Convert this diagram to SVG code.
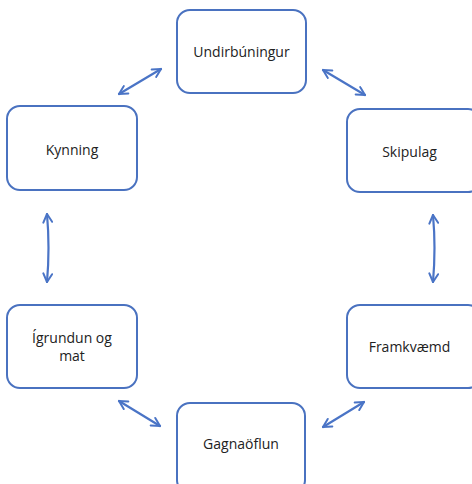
<svg xmlns="http://www.w3.org/2000/svg" width="472" height="484" viewBox="0 0 472 484">
<style>
.box{fill:#fff;stroke:#4a72c0;stroke-width:2}
.lbl{font-family:"Open Sans","Liberation Sans",sans-serif;font-size:14px;fill:#222;text-anchor:middle}
.con{fill:none;stroke:#4a74c6;stroke-width:2.2;stroke-linecap:round}
</style>
<defs>
<marker id="ah" viewBox="0 0 10 10" refX="9" refY="5" markerWidth="11" markerHeight="11" orient="auto-start-reverse" markerUnits="userSpaceOnUse">
<path d="M1.5,1 L9,5 L1.5,9" fill="none" stroke="#4a74c6" stroke-width="1.8" stroke-linecap="round" stroke-linejoin="round"/>
</marker>
</defs>
<rect width="472" height="484" fill="#fff"/>
<g id="connectors">
<path class="con" d="M119,94 L161,69" marker-start="url(#ah)" marker-end="url(#ah)"/>
<path class="con" d="M323,70 L365,95" marker-start="url(#ah)" marker-end="url(#ah)"/>
<path class="con" d="M47,214 Q50,248 47,282" marker-start="url(#ah)" marker-end="url(#ah)"/>
<path class="con" d="M433,215 Q436,248 433,282" marker-start="url(#ah)" marker-end="url(#ah)"/>
<path class="con" d="M119,401 L160,426" marker-start="url(#ah)" marker-end="url(#ah)"/>
<path class="con" d="M323,427 L364,402" marker-start="url(#ah)" marker-end="url(#ah)"/>
</g>
<g id="undirbuningur">
<rect class="box" x="177" y="10" width="129" height="83" rx="13"/>
<text class="lbl" x="241.5" y="57">Undirbúningur</text>
</g>
<g id="kynning">
<rect class="box" x="7" y="106" width="130" height="84" rx="13"/>
<text class="lbl" x="72" y="155">Kynning</text>
</g>
<g id="skipulag">
<rect class="box" x="347" y="109" width="134" height="83" rx="13"/>
<text class="lbl" x="409.5" y="157">Skipulag</text>
</g>
<g id="igrundun">
<rect class="box" x="7" y="305" width="130" height="83" rx="13"/>
<text class="lbl" x="72" y="343">Ígrundun og</text>
<text class="lbl" x="72" y="361">mat</text>
</g>
<g id="framkvaemd">
<rect class="box" x="347" y="305" width="134" height="83" rx="13"/>
<text class="lbl" x="409.5" y="352">Framkvæmd</text>
</g>
<g id="gagnaoflun">
<rect class="box" x="177" y="403" width="128" height="90" rx="13"/>
<text class="lbl" x="241" y="449">Gagnaöflun</text>
</g>
</svg>
